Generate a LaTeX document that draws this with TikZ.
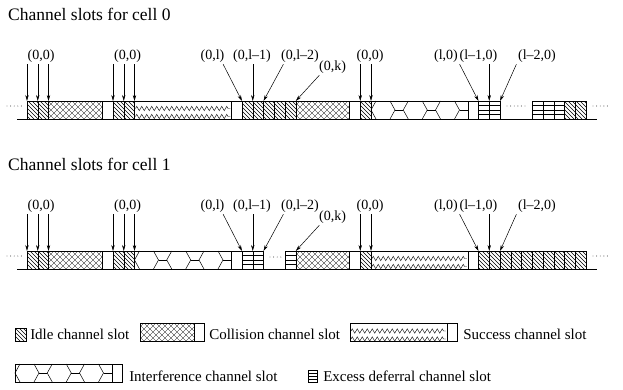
\documentclass[tikz,border=0pt]{standalone}
\usepackage{fontspec}
\setmainfont{Liberation Serif}
\usetikzlibrary{patterns,decorations.pathmorphing,arrows.meta}

\pgfdeclarepatternformonly{idlehatch}{\pgfqpoint{-1pt}{-1pt}}{\pgfqpoint{5pt}{5pt}}{\pgfqpoint{4pt}{4pt}}{%
  \pgfsetlinewidth{0.4pt}%
  \pgfpathmoveto{\pgfqpoint{-0.1pt}{4.1pt}}%
  \pgfpathlineto{\pgfqpoint{4.1pt}{-0.1pt}}%
  \pgfusepath{stroke}}
\pgfdeclarepatternformonly{collhatch}{\pgfqpoint{-1pt}{-1pt}}{\pgfqpoint{7pt}{7pt}}{\pgfqpoint{6pt}{6pt}}{%
  \pgfsetlinewidth{0.3pt}%
  \pgfpathmoveto{\pgfqpoint{-0.1pt}{-0.1pt}}%
  \pgfpathlineto{\pgfqpoint{6.1pt}{6.1pt}}%
  \pgfpathmoveto{\pgfqpoint{-0.1pt}{6.1pt}}%
  \pgfpathlineto{\pgfqpoint{6.1pt}{-0.1pt}}%
  \pgfusepath{stroke}}

\newcommand{\idleslot}[2]{\draw[pattern=idlehatch] ({#1},{#2}) rectangle ++(10.75,18);}
\newcommand{\collslot}[2]{%
  \draw[pattern=collhatch] ({#1},{#2}) rectangle ++(53.75,18);
  \draw ({#1+53.75},{#2}) rectangle ++(10.75,18);}
\newcommand{\succslot}[2]{%
  \draw ({#1},{#2}) rectangle ++(96.75,18);
  \draw[zz] ({#1+1},{#2+7.5}) -- ({#1+95.75},{#2+7.5});
  \draw[zz] ({#1+1},{#2+15.5}) -- ({#1+95.75},{#2+15.5});
  \draw ({#1+96.75},{#2}) rectangle ++(10.75,18);}
\newcommand{\intfslot}[2]{%
  \draw ({#1},{#2}) rectangle ++(96.75,18);
  \foreach \k in {0,1,2} {
    \draw ({#1+\k*32.25+5},{#2}) -- ({#1+\k*32.25},{#2+9}) -- ({#1+\k*32.25+5},{#2+18});
    \draw ({#1+\k*32.25+19},{#2}) -- ({#1+\k*32.25+24},{#2+9}) -- ({#1+\k*32.25+19},{#2+18});
    \draw ({#1+\k*32.25+24},{#2+9}) -- ({#1+\k*32.25+32.25},{#2+9});
  }
  \draw ({#1+96.75},{#2}) rectangle ++(10.75,18);}
\newcommand{\excslot}[2]{%
  \draw ({#1},{#2}) rectangle ++(10.75,18);
  \foreach \d in {4.5,9,13.5} \draw ({#1},{#2+\d}) -- ++(10.75,0);}

\begin{document}
\begin{tikzpicture}[x=1pt,y=-1pt,line width=0.5pt,
  zz/.style={decorate,decoration={zigzag,segment length=5pt,amplitude=2.2pt},line width=0.4pt},
  arr/.style={-{Stealth[length=6pt,width=3.4pt]},line width=0.5pt},
  lab/.style={font=\fontsize{14}{16}\selectfont,inner sep=1.5pt,anchor=base},
  ttl/.style={font=\fontsize{17.5}{20}\selectfont,inner sep=0pt,anchor=base west},
  legtxt/.style={font=\fontsize{15}{18}\selectfont,inner sep=0pt,anchor=base west},
  gapdots/.style={line width=0.9pt,line cap=round,dash pattern=on 0pt off 3.6pt}]
\useasboundingbox (0,0) rectangle (623,389);

\node[ttl] (ttl0) at (8,20) {Channel slots for cell 0};
\node[ttl] (ttl1) at (8,170) {Channel slots for cell 1};

\draw[line width=0.8pt] (17,119) -- (597,119);
\foreach \i in {0,1,8,9,20,21,22,23,24,31,50,51} {\idleslot{27+\i*10.75}{101}}
\foreach \i in {2,25} {\collslot{27+\i*10.75}{101}}
\succslot{27+10*10.75}{101}
\intfslot{27+32*10.75}{101}
\foreach \i in {42,43,47,48,49} {\excslot{27+\i*10.75}{101}}
\draw[gapdots] (7,106) -- (22,106);
\draw[gapdots] (507,106) -- (527,106);
\draw[gapdots] (593,106) -- (608,106);

\draw[line width=0.8pt] (17,269) -- (597,269);
\foreach \i in {0,1,8,9,31,42,43,44,45,46,47,48,49,50,51} {\idleslot{27+\i*10.75}{251}}
\foreach \i in {2,25} {\collslot{27+\i*10.75}{251}}
\intfslot{27+10*10.75}{251}
\succslot{27+32*10.75}{251}
\foreach \i in {20,21,24} {\excslot{27+\i*10.75}{251}}
\draw[gapdots] (7,256) -- (22,256);
\draw[gapdots] (270,257) -- (281,257);
\draw[gapdots] (593,256) -- (608,256);

\foreach \i in {0,1,2,8,9,10,20,21,22,25,31,32,42,43,44} {
  \coordinate (sa\i) at ({27+\i*10.75},101);
  \coordinate (sb\i) at ({27+\i*10.75},251);
}

\node[lab] (t00a) at (41,59.5) {(0,0)};
\node[lab] (t00b) at (127.5,59.5) {(0,0)};
\node[lab] (t0l) at (212.5,59.5) {(0,l)};
\node[lab] (t0l1) at (252,59.5) {(0,l--1)};
\node[lab] (t0l2) at (300,59.5) {(0,l--2)};
\node[lab] (t0k) at (332.5,70.5) {(0,k)};
\node[lab] (t00c) at (370,59.5) {(0,0)};
\node[lab] (tl0) at (446,59.5) {(l,0)};
\node[lab] (tl10) at (478.5,59.5) {(l--1,0)};
\node[lab] (tl20) at (537,59.5) {(l--2,0)};

\foreach \i in {0,1,2} \draw[arr] (t00a.south -| sa\i) -- (sa\i);
\foreach \i in {8,9,10} \draw[arr] (t00b.south -| sa\i) -- (sa\i);
\draw[arr] ([xshift=-3pt]t0l.south east) -- (sa20);
\draw[arr] (t0l1.south -| sa21) -- (sa21);
\draw[arr] ([xshift=4pt]t0l2.south west) -- (sa22);
\draw[arr] ([xshift=2pt]t0k.south west) -- (sa25);
\foreach \i in {31,32} \draw[arr] (t00c.south -| sa\i) -- (sa\i);
\draw[arr] (tl0.south east) -- (sa42);
\draw[arr] (tl10.south -| sa43) -- (sa43);
\draw[arr] (tl20.south west) -- (sa44);

\node[lab] (b00a) at (41,209.5) {(0,0)};
\node[lab] (b00b) at (127.5,209.5) {(0,0)};
\node[lab] (b0l) at (212.5,209.5) {(0,l)};
\node[lab] (b0l1) at (252,209.5) {(0,l--1)};
\node[lab] (b0l2) at (300,209.5) {(0,l--2)};
\node[lab] (b0k) at (332.5,220.5) {(0,k)};
\node[lab] (b00c) at (370,209.5) {(0,0)};
\node[lab] (bl0) at (446,209.5) {(l,0)};
\node[lab] (bl10) at (478.5,209.5) {(l--1,0)};
\node[lab] (bl20) at (537,209.5) {(l--2,0)};

\foreach \i in {0,1,2} \draw[arr] (b00a.south -| sb\i) -- (sb\i);
\foreach \i in {8,9,10} \draw[arr] (b00b.south -| sb\i) -- (sb\i);
\draw[arr] ([xshift=-3pt]b0l.south east) -- (sb20);
\draw[arr] (b0l1.south -| sb21) -- (sb21);
\draw[arr] ([xshift=4pt]b0l2.south west) -- (sb22);
\draw[arr] ([xshift=2pt]b0k.south west) -- (sb25);
\foreach \i in {31,32} \draw[arr] (b00c.south -| sb\i) -- (sb\i);
\draw[arr] (bl0.south east) -- (sb42);
\draw[arr] (bl10.south -| sb43) -- (sb43);
\draw[arr] (bl20.south west) -- (sb44);

\draw[pattern=idlehatch] (15,328) rectangle (25.75,341);
\node[legtxt] (lgidle) at (30,339.5) {Idle channel slot};
\collslot{140}{323.5}
\node[legtxt] (lgcoll) at (209,339.5) {Collision channel slot};
\succslot{350}{323.5}
\node[legtxt] (lgsucc) at (463,339.5) {Success channel slot};
\intfslot{15}{364}
\node[legtxt] (lgintf) at (129,381) {Interference channel slot};
\draw (308,370) rectangle (317,382);
\foreach \d in {373,376,379} \draw (308,\d) -- (317,\d);
\node[legtxt] (lgexc) at (323,381) {Excess deferral channel slot};
\end{tikzpicture}
\end{document}
